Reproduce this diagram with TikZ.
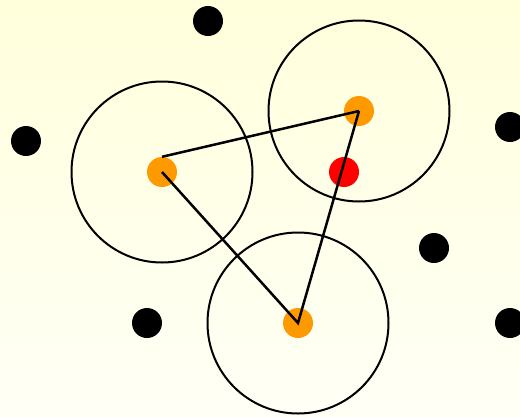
\documentclass[tikz,border=0pt]{standalone}
\usetikzlibrary{positioning}
\definecolor{bgtop}{RGB}{255,255,220}
\definecolor{bgbot}{RGB}{255,255,246}
\definecolor{hub}{RGB}{255,153,0}

\begin{document}
\begin{tikzpicture}[x=1pt,y=-1pt,
      dot/.style={circle,fill=black,inner sep=0pt,minimum size=30pt},
      hubdot/.style={dot,fill=hub},
      reach/.style={circle,draw,line width=2pt,inner sep=0pt,minimum size=181pt},
      link/.style={line width=2.5pt}]
    \shade[top color=bgtop,bottom color=bgbot] (0,0) rectangle (520,416);
    \useasboundingbox (0,0) rectangle (520,416);
    % stray points
    \node[dot] (p1) at (208,21) {};
    \node[dot] (p2) at (26,141) {};
    \node[dot] (p3) at (510,127) {};
    \node[dot] (p4) at (434,248) {};
    \node[dot] (p5) at (147,323) {};
    \node[dot] (p6) at (510,323) {};
    % hubs and target
    \node[hubdot] (h1) at (162,172) {};
    \node[hubdot] (h2) at (359,111) {};
    \node[hubdot] (h3) at (298,323) {};
    \node[dot,fill=red] (tgt) at (344,172) {};
    \node[reach] (r1) at (h1) {};
    \node[reach] (r2) at (h2) {};
    \node[reach] (r3) at (h3) {};
    \draw[link] (h1.north) -- (h2.center);
    \draw[link] (h1.center) -- (h3.center) -- (h2.center);
  \end{tikzpicture}
\end{document}
